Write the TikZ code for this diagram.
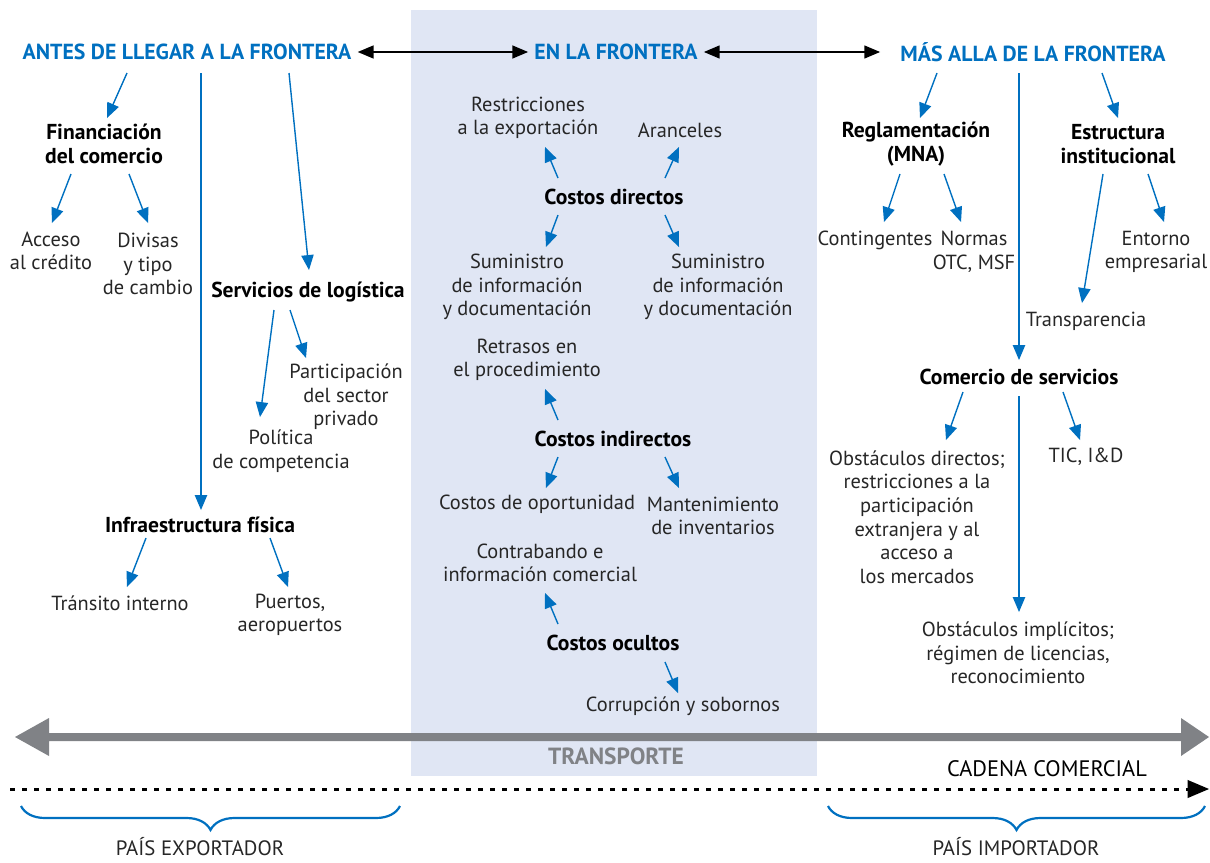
\documentclass[tikz,border=0pt]{standalone}
\usepackage{fontspec}
\setmainfont{PT Sans}
\usepackage{xcolor}
\usepackage{tikz}
\usetikzlibrary{arrows}
\usetikzlibrary{decorations.pathreplacing}
\definecolor{wbblue}{RGB}{0,112,192}
\definecolor{panelblue}{RGB}{224,230,244}
\definecolor{transgray}{RGB}{128,130,134}
\tikzstyle{stage} = [font=\fontsize{10.9}{12}\selectfont\bfseries, text=wbblue, inner sep=3pt]
\tikzstyle{topic} = [font=\fontsize{10.8}{11.8}\selectfont\bfseries, align=center, inner sep=0pt]
\tikzstyle{leaf} = [font=\fontsize{10.2}{11.8}\selectfont, text=black!85, align=center, inner sep=0pt]
\tikzstyle{line} = [draw=wbblue, line width=0.7pt, -triangle 45]
\tikzstyle{link} = [draw, line width=0.8pt, triangle 45-triangle 45]
\tikzstyle{tradechain} = [draw, line width=1.5pt, dash pattern=on 2.5pt off 3.5pt, -triangle 45]
\tikzstyle{countrybrace} = [draw=wbblue, line width=1.1pt, decorate,
    decoration={brace, mirror, amplitude=12pt}]

\begin{document}
\begin{tikzpicture}[x=0.5pt, y=-0.5pt]
  \useasboundingbox (0,0) rectangle (1210,862);
  % Border panel
  \fill[panelblue] (411,10) rectangle (817,776);

  % Place stages
  \node [stage] (antes) at (187,52) {ANTES DE LLEGAR A LA FRONTERA};
  \node [stage] (enla) at (616,52) {EN LA FRONTERA};
  \node [stage] (masalla) at (1033,52) {MÁS ALLA DE LA FRONTERA};
  \path [link] (antes.east) -- (enla.west);
  \path [link] (enla.east) -- ([xshift=-7pt]masalla.west);

  % Before the border
  \node [topic] (fin) at (104,144) {Financiación\\del comercio};
  \node [topic] (logis) at (308,292) {Servicios de logística};
  \node [topic] (infra) at (200,525) {Infraestructura física};
  \node [leaf] (acceso) at (51,251) {Acceso\\al crédito};
  \node [leaf] (divisas) at (148,264) {Divisas\\y tipo\\de cambio};
  \node [leaf] (partic) at (346,397) {Participación\\del sector\\privado};
  \node [leaf] (politica) at (281,451) {Política\\de competencia};
  \node [leaf] (transito) at (120,603) {Tránsito interno};
  \node [leaf] (puertos) at (290,615) {Puertos,\\aeropuertos};
  \path [line] ([shift={(-60,21)}]antes.center) -- ([shift={(3,-26)}]fin.center);
  \path [line] ([shift={(14,21)}]antes.center) -- ([shift={(1,-15)}]infra.center);
  \path [line] ([shift={(102,21)}]antes.center) -- ([shift={(1,-22)}]logis.center);
  \path [line] ([shift={(-33,30)}]fin.center) -- ([shift={(1,-28)}]acceso.center);
  \path [line] ([shift={(25,30)}]fin.center) -- ([shift={(0,-41)}]divisas.center);
  \path [line] ([shift={(-34,18)}]logis.center) -- ([shift={(-21,-34)}]politica.center);
  \path [line] ([shift={(-18,18)}]logis.center) -- ([shift={(-40,-39)}]partic.center);
  \path [line] ([shift={(-54,13)}]infra.center) -- ([shift={(7,-16)}]transito.center);
  \path [line] ([shift={(70,13)}]infra.center) -- ([shift={(-2,-28)}]puertos.center);

  % At the border
  \node [topic] (cdir) at (614,197) {Costos directos};
  \node [topic] (cind) at (613,439) {Costos indirectos};
  \node [topic] (cocu) at (613,643) {Costos ocultos};
  \node [leaf] (restr) at (528,118) {Restricciones\\a la exportación};
  \node [leaf] (aranc) at (680,130) {Aranceles};
  \node [leaf] (sumi1) at (517,287) {Suministro\\de información\\y documentación};
  \node [leaf] (sumi2) at (718,287) {Suministro\\de información\\y documentación};
  \node [leaf] (retra) at (527,360) {Retrasos en\\el procedimiento};
  \node [leaf] (oport) at (537,504) {Costos de oportunidad};
  \node [leaf] (mante) at (713,516) {Mantenimiento\\de inventarios};
  \node [leaf] (contra) at (540,563) {Contrabando e\\información comercial};
  \node [leaf] (corrup) at (683,706) {Corrupción y sobornos};
  \path [line] ([shift={(-56,-19)}]cdir.center) -- ([shift={(17,29)}]restr.center);
  \path [line] ([shift={(51,-19)}]cdir.center) -- ([shift={(-1,17)}]aranc.center);
  \path [line] ([shift={(-56,18)}]cdir.center) -- ([shift={(29,-40)}]sumi1.center);
  \path [line] ([shift={(51,18)}]cdir.center) -- ([shift={(-39,-40)}]sumi2.center);
  \path [line] ([shift={(-55,-19)}]cind.center) -- ([shift={(18,29)}]retra.center);
  \path [line] ([shift={(-55,18)}]cind.center) -- ([shift={(9,-16)}]oport.center);
  \path [line] ([shift={(52,18)}]cind.center) -- ([shift={(-34,-28)}]mante.center);
  \path [line] ([shift={(-55,-19)}]cocu.center) -- ([shift={(5,30)}]contra.center);
  \path [line] ([shift={(52,19)}]cocu.center) -- ([shift={(-5,-13)}]corrup.center);

  % Behind the border
  \node [topic] (regl) at (916,144) {Reglamentación\\(MNA)};
  \node [topic] (estr) at (1118,144) {Estructura\\institucional};
  \node [topic] (comserv) at (1019,377) {Comercio de servicios};
  \node [leaf] (conting) at (875,240) {Contingentes};
  \node [leaf] (normas) at (974,252) {Normas\\OTC, MSF};
  \node [leaf] (entorno) at (1156,252) {Entorno\\empresarial};
  \node [leaf] (transp) at (1086,321) {Transparencia};
  \node [leaf] (obsdir) at (917,517) {Obstáculos directos;\\restricciones a la\\participación\\extranjera y al\\acceso a\\los mercados};
  \node [leaf] (tic) at (1086,457) {TIC, I\&D};
  \node [leaf] (obsimp) at (1018,653) {Obstáculos implícitos;\\régimen de licencias,\\reconocimiento};
  \path [line] ([shift={(-96,21)}]masalla.center) -- ([shift={(4,-26)}]regl.center);
  \path [line] ([shift={(-14,21)}]masalla.center) -- ([shift={(0,-17)}]comserv.center);
  \path [line] ([shift={(69,21)}]masalla.center) -- ([shift={(0,-26)}]estr.center);
  \path [line] ([shift={(-16,30)}]regl.center) -- ([shift={(9,-18)}]conting.center);
  \path [line] ([shift={(28,30)}]regl.center) -- ([shift={(-13,-30)}]normas.center);
  \path [line] ([shift={(-15,30)}]estr.center) -- ([shift={(-4,-18)}]transp.center);
  \path [line] ([shift={(30,30)}]estr.center) -- ([shift={(8,-30)}]entorno.center);
  \path [line] ([shift={(-56,15)}]comserv.center) -- ([shift={(29,-77)}]obsdir.center);
  \path [line] ([shift={(44,15)}]comserv.center) -- ([shift={(-6,-17)}]tic.center);
  \path [line] ([shift={(0,19)}]comserv.center) -- ([shift={(1,-41)}]obsimp.center);

  % Transport and trade chain
  \fill[transgray] (15,737) -- (49,718) -- (49,733) -- (1181,733) -- (1181,718)
    -- (1209,737) -- (1181,756) -- (1181,741) -- (49,741) -- (49,756) -- cycle;
  \node [stage, font=\fontsize{11.7}{12}\selectfont\bfseries, text=transgray] (transporte) at (616,756) {TRANSPORTE};
  \node [leaf, font=\fontsize{11.2}{12}\selectfont, text=black] (cadena) at (1047,769) {CADENA COMERCIAL};
  \coordinate (chainstart) at (10,789);
  \coordinate (chainend) at (1209,789);
  \path [tradechain] (chainstart) -- (chainend);

  % Countries
  \coordinate (expleft) at (21,806);
  \coordinate (expright) at (400,806);
  \coordinate (impleft) at (828,806);
  \coordinate (impright) at (1205,806);
  \path [countrybrace] (expleft) -- (expright);
  \path [countrybrace] (impleft) -- (impright);
  \node [leaf, font=\fontsize{10.4}{12}\selectfont] (exportador) at (200,847) {PAÍS EXPORTADOR};
  \node [leaf, font=\fontsize{10.4}{12}\selectfont] (importador) at (1016,847) {PAÍS IMPORTADOR};
\end{tikzpicture}
\end{document}
